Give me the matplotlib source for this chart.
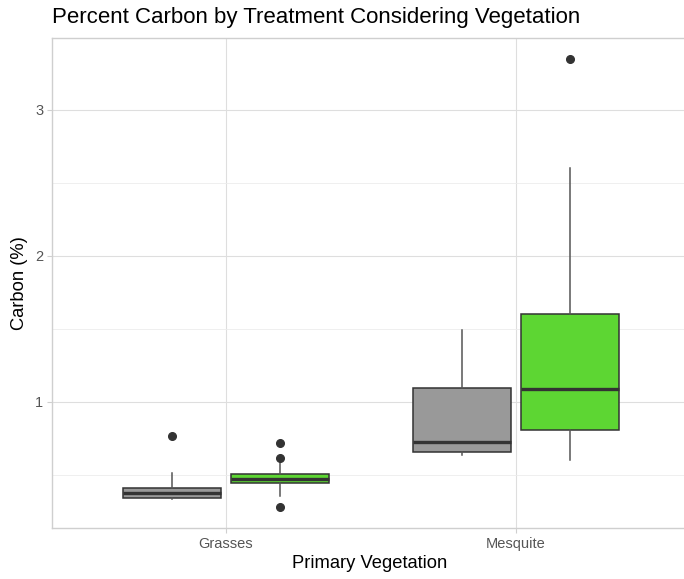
import matplotlib
matplotlib.use("Agg")
import matplotlib.pyplot as plt
from matplotlib.ticker import MultipleLocator

plt.rcParams['font.family'] = ['Liberation Sans', 'DejaVu Sans']

categories = ["Grasses", "Mesquite"]
treatments = ["Control", "Treated"]
colors = ["#999999", "#5DD633"]

# per category, per treatment
q1 = [[0.337, 0.440], [0.656, 0.803]]
med = [[0.373, 0.471], [0.725, 1.086]]
q3 = [[0.410, 0.503], [1.095, 1.599]]
whislo = [[0.332, 0.353], [0.634, 0.599]]
whishi = [[0.510, 0.579], [1.490, 2.599]]
fliers = [[[0.766], [0.718, 0.611, 0.275]], [[], [3.346]]]

fig = plt.figure(figsize=(6.84, 5.79), dpi=100)
ax = fig.add_axes([52/684, 51/579, 638/684, 490/579])

dodge = 0.75
bw = dodge / 2 * 0.9
for ci, cat in enumerate(categories):
    for ti in range(2):
        pos = ci + 1 + (ti - 0.5) * dodge / 2
        st = dict(med=med[ci][ti], q1=q1[ci][ti], q3=q3[ci][ti],
                  whislo=whislo[ci][ti], whishi=whishi[ci][ti],
                  fliers=fliers[ci][ti])
        ax.bxp([st], positions=[pos], widths=bw, patch_artist=True,
               showcaps=False,
               boxprops=dict(facecolor=colors[ti], edgecolor="#333333", linewidth=1.1),
               medianprops=dict(color="#333333", linewidth=2.4, solid_capstyle="butt"),
               whiskerprops=dict(color="#555555", linewidth=1.1),
               flierprops=dict(marker="o", markerfacecolor="#333333",
                               markeredgecolor="#333333", markersize=5.5),
               zorder=3)

ax.set_xlim(0.4, 2.6)
ax.set_ylim(0.134, 3.49)
ax.set_xticks([1, 2])
ax.set_xticklabels(categories)
ax.yaxis.set_major_locator(MultipleLocator(1))
ax.yaxis.set_minor_locator(MultipleLocator(0.5))
ax.set_yticks([1, 2, 3])
ax.set_yticklabels(["1", "2", "3"])

ax.grid(which="major", color="#dedede", linewidth=0.8, zorder=0)
ax.grid(which="minor", axis="y", color="#ececec", linewidth=0.6, zorder=0)
ax.set_axisbelow(True)
for s in ax.spines.values():
    s.set_color("#cfcfcf")
    s.set_linewidth(1.0)
ax.tick_params(which="major", length=3.5, color="#cfcfcf", labelcolor="#555555",
               labelsize=10.5)
ax.tick_params(axis="y", pad=2.7)
ax.tick_params(axis="x", pad=3)
ax.tick_params(which="minor", length=0)

ax.set_xlabel("Primary Vegetation", fontsize=13.2, color="black", va="center")
ax.set_ylabel("Carbon (%)", fontsize=13.2, color="black", va="center")
ax.xaxis.set_label_coords((370 - 52) / 638, (579 - 563 - 51) / 490)
ax.yaxis.set_label_coords((20 - 52) / 638, 0.5)
fig.text(52/684, 1 - 17/579, "Percent Carbon by Treatment Considering Vegetation",
         fontsize=16, ha="left", va="center", color="black")

fig.savefig("out.png", dpi=100)
